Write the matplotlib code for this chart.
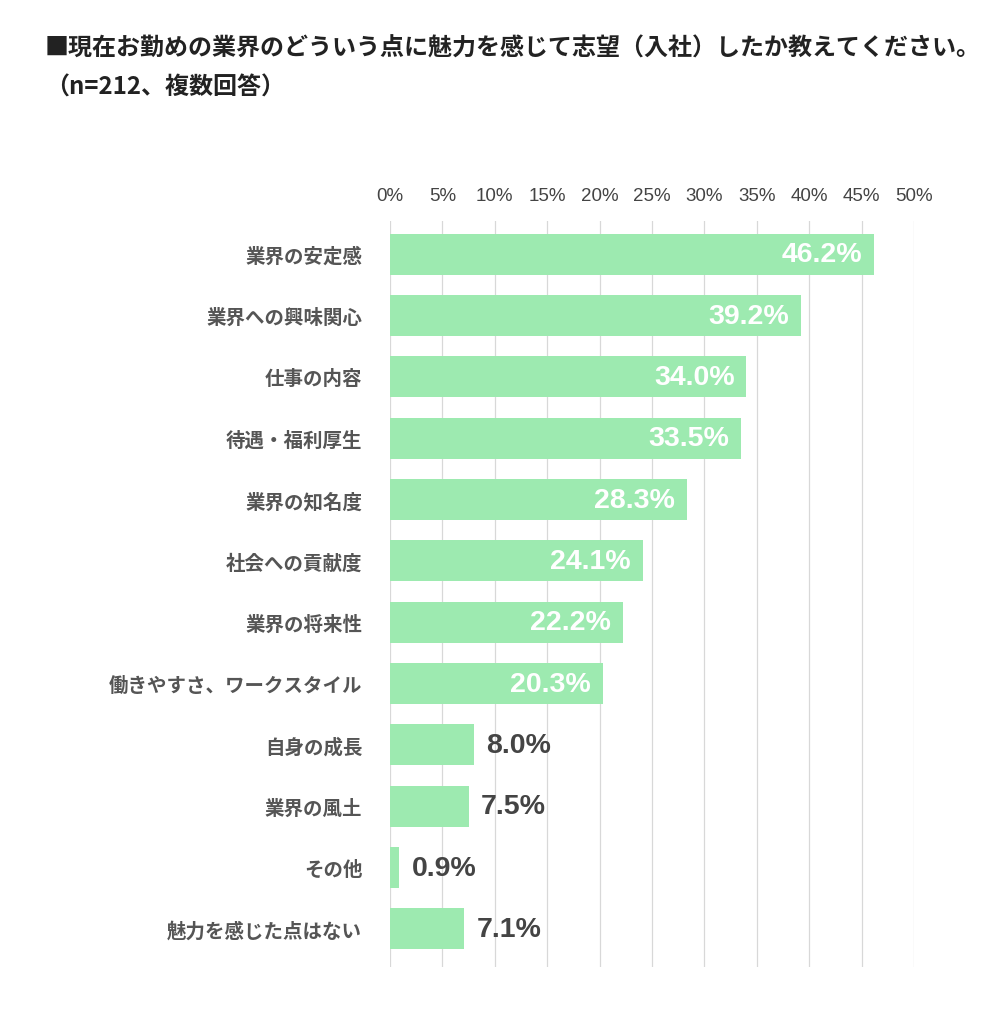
import matplotlib
matplotlib.use('Agg')
import matplotlib.pyplot as plt

plt.rcParams['font.family'] = ['Noto Sans CJK JP', 'DejaVu Sans']

categories = ['業界の安定感', '業界への興味関心', '仕事の内容', '待遇・福利厚生',
              '業界の知名度', '社会への貢献度', '業界の将来性', '働きやすさ、ワークスタイル',
              '自身の成長', '業界の風土', 'その他', '魅力を感じた点はない']
values = [46.2, 39.2, 34.0, 33.5, 28.3, 24.1, 22.2, 20.3, 8.0, 7.5, 0.9, 7.1]
ticks = [0, 5, 10, 15, 20, 25, 30, 35, 40, 45, 50]

bar_color = '#9deab0'
text_color = '#444444'
num_font = ['Liberation Sans', 'DejaVu Sans']

fig = plt.figure(figsize=(10, 10.12), dpi=100)
ax = fig.add_axes([0.39, 0.0435, 0.524, 0.737])

y = list(range(len(categories)))
ax.barh(y, values, height=0.67, color=bar_color, zorder=2)

ax.set_xlim(0, 50)
ax.set_ylim(len(categories) - 0.38, -0.54)
ax.set_xticks(ticks)
ax.set_xticklabels([f'{t}%' for t in ticks], family=num_font)
ax.xaxis.tick_top()
ax.tick_params(axis='x', length=0, pad=12, labelsize=13.5, labelcolor=text_color)
ax.set_yticks(y)
ax.set_yticklabels(categories)
ax.tick_params(axis='y', length=0, pad=20, labelsize=14, labelcolor='#555555')
for lab in ax.get_yticklabels():
    lab.set_fontweight('bold')

ax.grid(axis='x', color='#d8d8d8', linewidth=0.9, zorder=0)
for s in ax.spines.values():
    s.set_visible(False)

# 値ラベル（20%以上はバーの中に白で）
for yi, v in zip(y, values):
    if v >= 20:
        ax.text(v - 1.1, yi, f'{v:.1f}%', ha='right', va='center', color='white',
                fontsize=20.5, fontweight='bold', family=num_font, zorder=3)
    else:
        ax.text(v + 1.2, yi, f'{v:.1f}%', ha='left', va='center', color=text_color,
                fontsize=20.5, fontweight='bold', family=num_font, zorder=3)

fig.text(0.045, 0.952, '■現在お勤めの業界のどういう点に魅力を感じて志望（入社）したか教えてください。',
         fontsize=17.3, fontweight='bold', color='#222222', va='center')
fig.text(0.045, 0.913, '（n=212、複数回答）',
         fontsize=17.3, fontweight='bold', color='#222222', va='center')

fig.savefig('out.png', dpi=100, facecolor='white')
